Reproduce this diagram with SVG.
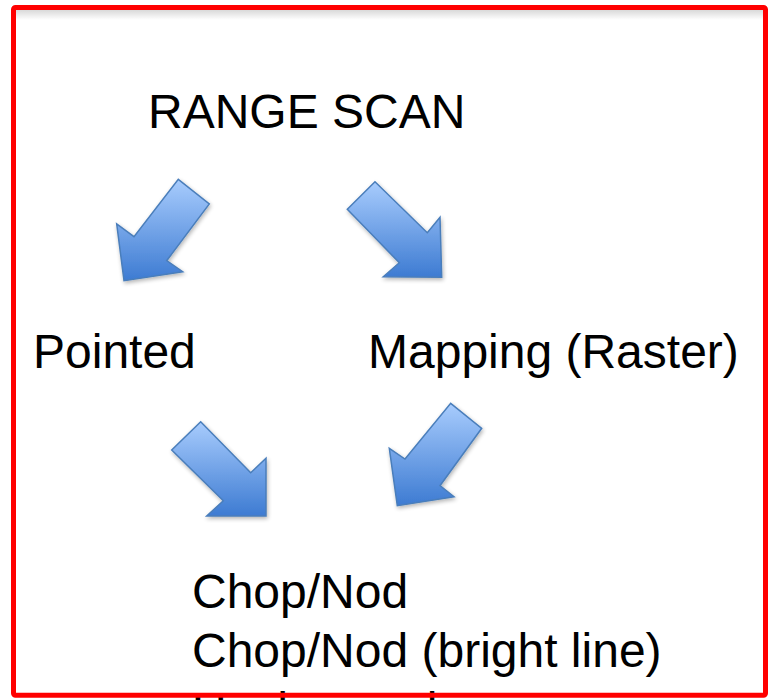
<svg xmlns="http://www.w3.org/2000/svg" width="770" height="700" viewBox="0 0 770 700">
<defs>
<linearGradient id="ag" x1="0" y1="0" x2="0" y2="1">
<stop offset="0" stop-color="#a8ccfd"/>
<stop offset="1" stop-color="#3d7bd2"/>
</linearGradient>
<linearGradient id="topShade" x1="0" y1="0" x2="0" y2="1">
<stop offset="0" stop-color="#000" stop-opacity="0.15"/>
<stop offset="1" stop-color="#000" stop-opacity="0"/>
</linearGradient>
<filter id="sh" x="-20%" y="-20%" width="140%" height="140%">
<feGaussianBlur in="SourceAlpha" stdDeviation="2"/>
<feOffset dx="1" dy="2" result="b"/>
<feComponentTransfer><feFuncA type="linear" slope="0.3"/></feComponentTransfer>
<feMerge><feMergeNode/><feMergeNode in="SourceGraphic"/></feMerge>
</filter>
</defs>
<style>
.t{font-family:"Liberation Sans",Arial,sans-serif;font-size:48px;fill:#000}
.arr{fill:url(#ag);stroke:#4a7ebb;stroke-width:1.5;stroke-linejoin:miter;filter:url(#sh)}
</style>
<rect x="0" y="0" width="770" height="700" fill="#fff"/>
<rect x="16" y="10" width="747" height="10" fill="url(#topShade)"/>
<g id="texts">
<text class="t" x="148" y="128">RANGE SCAN</text>
<text class="t" x="33" y="368">Pointed</text>
<text class="t" x="368" y="368">Mapping (Raster)</text>
<text class="t" x="192" y="608">Chop/Nod</text>
<text class="t" x="192" y="667">Chop/Nod (bright line)</text>
<text class="t" x="192" y="726">Unchopped</text>
</g>
<g id="connectors">
<polygon id="arrow1" class="arr" points="178.3,179.3 209.3,204 166.7,260.7 182.7,271.7 124,280.7 116.7,224 134,236.7"/>
<polygon id="arrow2" class="arr" points="375,181.7 347.3,209.3 399.3,262.7 383.3,276.7 441.7,277.3 440,217.3 427.3,232.7"/>
<polygon id="arrow3" class="arr" points="200.7,421.7 171.7,450 223.3,500.7 206.7,516 266,516 266,458.3 250.7,472.7"/>
<polygon id="arrow4" class="arr" points="450.7,403.3 481.7,428.3 440,485.7 454,496.7 397.3,505.7 389.3,448.3 405,459"/>
</g>
<rect id="frame" x="13.5" y="7.5" width="752" height="687.7" rx="2" fill="none" stroke="#ff0000" stroke-width="5"/>
</svg>
